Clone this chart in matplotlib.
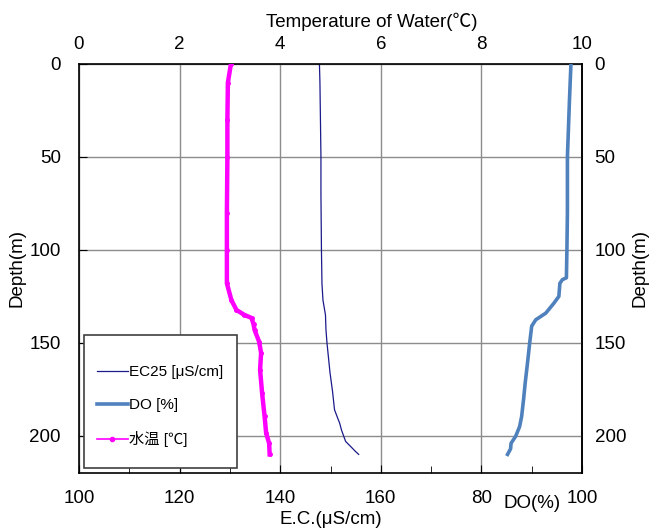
import matplotlib
matplotlib.use("Agg")
import matplotlib.pyplot as plt
from matplotlib.lines import Line2D
from matplotlib.patches import Rectangle

plt.rcParams['font.family'] = ['Liberation Sans', 'Noto Sans CJK JP', 'DejaVu Sans']

# EC25 profile
ec_depth = [0, 10, 30, 50, 70, 100, 118, 127, 135, 143, 150, 158, 166, 176, 186, 191, 193, 197, 200, 203, 206, 208.5, 210]
ec_value = [147.8, 147.9, 148.0, 148.1, 148.1, 148.2, 148.3, 148.5, 149.0, 149.1, 149.3, 149.6, 149.9, 150.4, 150.8, 151.5, 151.8, 152.2, 152.6, 153.0, 154.1, 155.0, 155.6]

# DO profile
do_depth = [0, 20, 50, 80, 100, 115, 116, 118, 125, 128.7, 134, 137.6, 141, 150, 160, 171.7, 180, 189.6, 195, 200.3, 204, 207, 210]
do_value = [97.8, 97.5, 97.1, 97.1, 97.0, 96.9, 96.1, 95.6, 95.4, 94.4, 92.8, 90.8, 90.0, 89.6, 89.2, 88.7, 88.4, 88.0, 87.6, 86.8, 85.9, 85.8, 85.2]

# water temperature profile
wt_depth = [0, 10, 30, 50, 80, 100, 118, 127, 132.3, 135, 136.6, 140, 143, 149.3, 155.4, 164.5, 177, 189.6, 198.5, 204, 210]
wt_value = [3.02, 2.96, 2.95, 2.95, 2.94, 2.94, 2.94, 3.03, 3.13, 3.29, 3.43, 3.47, 3.49, 3.58, 3.62, 3.60, 3.64, 3.69, 3.72, 3.78, 3.79]

ec_ticks = [100, 120, 140, 160, 180, 200]
ec_labels = ['100', '120', '140', '160', '', '']
do_ticks = [80, 100]
wt_ticks = [0, 2, 4, 6, 8, 10]
depth_ticks = [0, 50, 100, 150, 200]

W, H = 649, 529
fig = plt.figure(figsize=(W / 100, H / 100), dpi=100)
l, r, t, b = 79, 582, 64, 473
ax = fig.add_axes([l / W, 1 - b / H, (r - l) / W, (b - t) / H])

fs = 13.5
ax.set_xlim(100, 200)
ax.set_ylim(220, 0)
ax.set_xticks(ec_ticks)
ax.set_xticklabels(ec_labels)
ax.set_xticks(range(110, 200, 20), minor=True)
ax.set_yticks(depth_ticks)
ax.grid(True, which='major', color='#8c8c8c', lw=1)
ax.tick_params(axis='x', which='both', direction='in', length=6, pad=12, labelsize=fs)
ax.tick_params(axis='x', which='minor', length=5)
ax.tick_params(axis='y', direction='in', length=6, pad=13, labelsize=fs)
for s in ax.spines.values():
    s.set_linewidth(1.2)
ax.set_ylabel('Depth(m)', fontsize=fs)
ax.yaxis.set_label_coords(-(l - 17) / (r - l), 0.5)
ax.yaxis.label.set_va('center')
ax.set_xlabel('E.C.(μS/cm)', fontsize=fs)
ax.xaxis.set_label_coords(0.5, -(519 - b) / (b - t))
ax.xaxis.label.set_va('center')

# right depth axis
ax_r = ax.secondary_yaxis('right')
ax_r.set_yticks(depth_ticks)
ax_r.tick_params(axis='y', direction='in', length=0, pad=9, labelsize=fs)
ax_r.spines['right'].set_linewidth(1.2)
ax.text((640 - l) / (r - l), 0.5, 'Depth(m)', transform=ax.transAxes, rotation=90,
        ha='center', va='center', fontsize=fs)

ec_line, = ax.plot(ec_value, ec_depth, color='#1a1a8a', lw=0.9)

# DO axis shares the bottom edge
ax_do = ax.twiny()
ax_do.set_xlim(0, 100)
ax_do.set_ylim(220, 0)
ax_do.xaxis.set_ticks_position('bottom')
ax_do.xaxis.set_label_position('bottom')
ax_do.set_xticks(do_ticks)
ax_do.tick_params(axis='x', direction='in', length=0, pad=12, labelsize=fs)
for s in ax_do.spines.values():
    s.set_visible(False)
ax_do.text(90, -(504 - b) / (b - t), 'DO(%)', transform=ax_do.get_xaxis_transform(),
           ha='center', va='center', fontsize=fs)
do_line, = ax_do.plot(do_value, do_depth, color='#4f81bd', lw=2.6)

# water temperature on the top axis
ax_t = ax.twiny()
ax_t.set_xlim(0, 10)
ax_t.set_ylim(220, 0)
ax_t.set_xticks(wt_ticks)
ax_t.tick_params(axis='x', direction='in', length=0, pad=8, labelsize=fs)
for s in ax_t.spines.values():
    s.set_visible(False)
ax_t.set_xlabel('Temperature of Water(℃)', fontsize=fs)
ax_t.xaxis.set_label_coords((372 - l) / (r - l), 1 + (t - 22) / (b - t))
ax_t.xaxis.label.set_va('center')
wt_line, = ax_t.plot(wt_value, wt_depth, color='#ff00ff', lw=3.2,
                     marker='o', ms=2.5, markevery=1)

# legend box (opaque, covers the grid) and frameless legend on top
box = Rectangle((84 / W, 1 - 468 / H), (237 - 84) / W, (468 - 335) / H,
                transform=fig.transFigure, facecolor='white', edgecolor='#404040',
                lw=1.2, zorder=3)
fig.patches.append(box)

handles = [Line2D([], [], color='#1a1a8a', lw=0.9),
           Line2D([], [], color='#4f81bd', lw=2.6),
           Line2D([], [], color='#ff00ff', lw=1.2, marker='o', ms=3)]
leg = fig.legend(handles, ['EC25 [μS/cm]', 'DO [%]', '水温 [℃]'],
                 loc='upper left', bbox_to_anchor=(97 / W, 1 - 365 / H),
                 frameon=False, fontsize=11, handlelength=2.0, handletextpad=0.1,
                 labelspacing=1.25, borderpad=0, borderaxespad=0)
leg.set_zorder(4)

fig.savefig('out.png', dpi=100)
